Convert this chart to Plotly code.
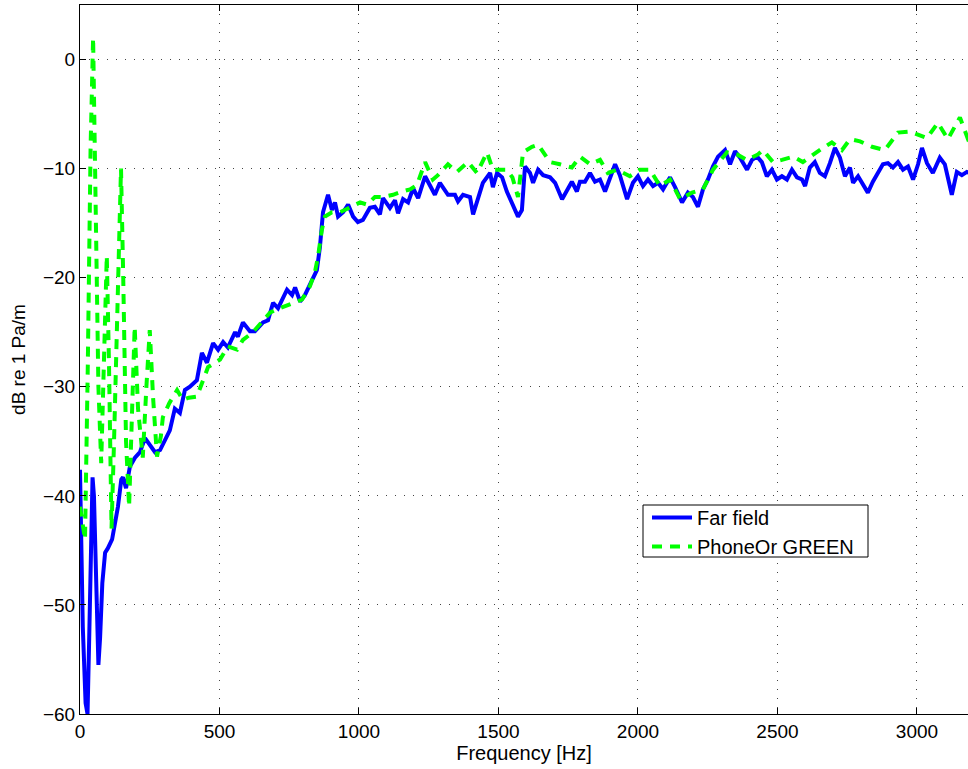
import plotly.graph_objects as go

# ---- data ----
far_freq = [0, 3, 10, 20, 27, 33, 40, 45, 50, 55, 62, 66, 72, 80, 90, 100, 115, 128, 136, 148,
            154, 165, 179, 197, 215, 233, 251, 269, 287, 308, 322, 340, 358, 376, 394, 419, 437,
            455, 477, 495, 513, 530, 556, 566, 584, 609, 627, 656, 674, 692, 710, 742, 760, 771,
            789, 806, 824, 849, 860, 867, 871, 889, 903, 914, 925, 943, 961, 979, 996, 1014, 1039,
            1057, 1075, 1086, 1111, 1129, 1140, 1158, 1176, 1194, 1212, 1237, 1254, 1272, 1290,
            1319, 1344, 1355, 1373, 1398, 1409, 1427, 1444, 1470, 1480, 1495, 1513, 1530, 1552,
            1570, 1584, 1595, 1613, 1624, 1642, 1660, 1685, 1703, 1728, 1746, 1763, 1781, 1792,
            1810, 1828, 1846, 1864, 1882, 1900, 1918, 1935, 1961, 1982, 2000, 2018, 2036, 2054,
            2072, 2090, 2115, 2133, 2158, 2179, 2197, 2215, 2233, 2251, 2269, 2287, 2312, 2330,
            2348, 2366, 2391, 2409, 2427, 2444, 2462, 2480, 2498, 2516, 2534, 2552, 2570, 2588,
            2599, 2616, 2634, 2652, 2670, 2688, 2706, 2724, 2742, 2760, 2771, 2789, 2806, 2824,
            2842, 2860, 2878, 2896, 2914, 2932, 2950, 2968, 2986, 3004, 3018, 3036, 3057, 3082,
            3100, 3125, 3143, 3161, 3179, 3200]
far_db = [-37.6, -42, -52, -59, -60, -53, -43, -38.3, -40, -46, -54, -55.5, -53, -48, -45.2, -44.8,
          -44, -42, -41, -38.5, -38.3, -39.3, -37.3, -36.5, -36, -34.7, -35.3, -36, -35.8, -34.6,
          -34, -32, -32.4, -30.3, -30, -29.4, -26.9, -27.8, -26, -26.6, -25.9, -26.4, -25.0, -25.4,
          -24.1, -24.9, -24.9, -24.1, -23.9, -22.3, -22.8, -21.1, -21.6, -20.9, -22.2, -21.6,
          -20.6, -19.3, -17.2, -15.0, -14.0, -12.4, -13.8, -13.1, -14.4, -14.0, -13.3, -14.4,
          -14.9, -14.7, -13.6, -13.5, -14.2, -12.7, -13.6, -12.9, -14.1, -12.8, -13.1, -11.8,
          -12.7, -10.7, -11.6, -12.4, -11.3, -12.4, -12.4, -13.0, -12.4, -12.6, -14.2, -12.8,
          -11.3, -10.4, -11.7, -10.4, -10.8, -12.1, -13.5, -14.4, -13.8, -9.8, -10.4, -11.3,
          -10.1, -10.6, -10.8, -11.3, -12.8, -11.9, -11.2, -12.1, -11.2, -11.2, -10.4, -11.2,
          -11.0, -12.1, -10.8, -9.6, -10.6, -12.8, -11.3, -10.7, -11.6, -11.0, -11.6, -11.3,
          -11.9, -10.8, -11.7, -13.1, -12.2, -12.6, -13.5, -11.9, -11.0, -9.8, -8.9, -8.3, -9.6,
          -8.4, -9.0, -10.1, -9.2, -8.9, -9.4, -10.7, -10.1, -11.0, -10.7, -11.0, -10.1, -10.8,
          -11.0, -11.6, -9.9, -9.4, -10.4, -10.7, -9.5, -8.1, -9.0, -10.7, -9.9, -11.3, -10.7,
          -11.5, -12.2, -11.2, -10.4, -9.6, -9.5, -9.9, -9.4, -10.1, -9.8, -11.0, -9.6, -8.1,
          -9.5, -10.4, -9.0, -9.6, -12.4, -10.3, -10.6, -10.3, -10.5]

green_freq = [0, 8, 18, 28, 38, 47, 56, 66, 76, 86, 96, 104, 113, 122, 135, 147, 155, 165, 176,
              186, 196, 208, 225, 238, 250, 262, 276, 290, 297, 320, 348, 369, 390, 419, 459, 502,
              530, 563, 584, 620, 656, 681, 706, 760, 796, 824, 842, 853, 867, 878, 903, 932, 968,
              1004, 1029, 1057, 1086, 1122, 1154, 1183, 1208, 1237, 1265, 1283, 1319, 1351, 1391,
              1423, 1459, 1480, 1505, 1530, 1550, 1570, 1588, 1620, 1642, 1685, 1720, 1763, 1792,
              1828, 1864, 1892, 1925, 1971, 2007, 2043, 2079, 2115, 2151, 2194, 2233, 2269, 2319,
              2355, 2391, 2430, 2448, 2484, 2516, 2556, 2591, 2627, 2663, 2695, 2731, 2760, 2796,
              2839, 2885, 2932, 2975, 3036, 3075, 3111, 3154, 3183, 3200]
green_db = [-41, -42.5, -44, -28, -8, 2, -12, -30, -37, -28, -18, -28, -43, -35, -20, -10, -20,
            -35, -41, -34, -24.5, -32, -36.5, -30, -24.8, -31, -36.4, -34.5, -32.8, -31.5, -30.3,
            -31.2, -31, -30.9, -28.2, -27.5, -26.3, -26.6, -25.7, -25.0, -23.9, -23.2, -22.9,
            -22.3, -22.0, -20.8, -19.5, -18.1, -15.6, -14.4, -14.0, -14.0, -13.5, -13.1, -13.3,
            -12.6, -12.6, -12.4, -12.1, -11.9, -11.5, -9.4, -11.0, -10.6, -9.6, -10.3, -9.4,
            -10.4, -8.5, -10.1, -10.1, -10.1, -10.8, -12.6, -8.5, -8.0, -7.8, -9.4, -9.6, -9.9,
            -8.9, -9.6, -9.2, -10.4, -10.1, -10.7, -10.1, -10.1, -11.6, -11.0, -12.8, -12.2,
            -11.9, -10.1, -8.5, -8.7, -9.2, -8.7, -8.3, -9.4, -9.2, -8.9, -9.4, -8.7, -8.1, -7.6,
            -8.3, -7.3, -7.5, -8.0, -8.3, -6.7, -6.6, -7.2, -5.8, -7.3, -5.3, -7.3, -7.0]

series_names = ["Far field", "PhoneOr GREEN"]
x_ticks = [0, 500, 1000, 1500, 2000, 2500, 3000]
y_ticks = [-60, -50, -40, -30, -20, -10, 0]
x_title = "Frequency [Hz]"
y_title = "dB re 1 Pa/m"

FONT = "Liberation Sans, Arial, Helvetica, sans-serif"

fig = go.Figure()
fig.add_trace(go.Scatter(x=far_freq, y=far_db, mode="lines", name=series_names[0],
                         line=dict(color="#0000ff", width=4)))
fig.add_trace(go.Scatter(x=green_freq, y=green_db, mode="lines", name=series_names[1],
                         line=dict(color="#00ff00", width=4, dash="10px,8px")))

axis_common = dict(
    showline=True, linecolor="black", linewidth=1,
    ticks="inside", ticklen=6, tickcolor="black", tickwidth=1,
    showgrid=True, gridcolor="#444444", gridwidth=1, griddash="1px,8px",
    zeroline=False, automargin=False,
    tickfont=dict(family=FONT, size=19, color="black"),
)

fig.update_xaxes(range=[0, 3183], tickvals=x_ticks, mirror="ticks",
                 title=dict(text=x_title, font=dict(family=FONT, size=20, color="black"), standoff=4),
                 **axis_common)
fig.update_yaxes(range=[-60, 5], tickvals=y_ticks, mirror=False,
                 title=dict(text=y_title, font=dict(family=FONT, size=19, color="black"), standoff=12),
                 **axis_common)

# legend frame (white box with black border, as in the reference)
fig.add_shape(type="rect", xref="paper", yref="paper",
              x0=(643 - 80) / 888, x1=(868 - 80) / 888,
              y0=(714 - 557) / 709, y1=(714 - 505) / 709,
              fillcolor="white", line=dict(color="black", width=1), layer="above")

fig.update_layout(
    width=968, height=769,
    margin=dict(l=80, r=0, t=5, b=55),
    paper_bgcolor="white", plot_bgcolor="white",
    font=dict(family=FONT, size=19, color="black"),
    legend=dict(x=(647 - 80) / 888, y=(714 - 498) / 709, xanchor="left", yanchor="top",
                bgcolor="rgba(0,0,0,0)", borderwidth=0,
                font=dict(family=FONT, size=20, color="black"),
                tracegroupgap=0, itemwidth=40),
    showlegend=True,
)

fig.write_html("out.html", config={"displayModeBar": False},
               post_script="document.body.style.margin='0';document.body.style.overflow='hidden';")
